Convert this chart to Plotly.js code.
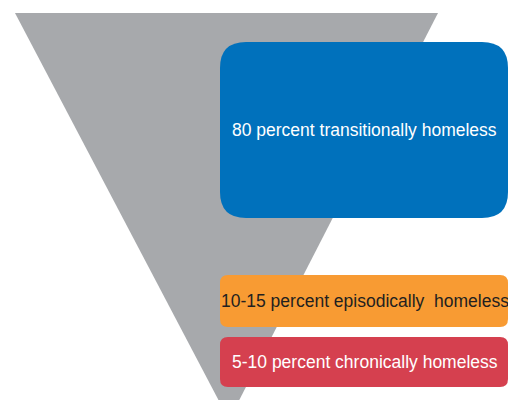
<!DOCTYPE html>
<html><head><meta charset="utf-8">
<script src="https://cdn.plot.ly/plotly-3.0.1.min.js"></script>
<style>html,body{margin:0;padding:0;background:#fff}#chart{width:508px;height:400px}</style>
</head><body><div id="chart"></div>
<script>
// Data
const categories = ['80 percent transitionally homeless', '10-15 percent episodically&nbsp; homeless', '5-10 percent chronically homeless'];
const shareLow = [80, 10, 5];
const shareHigh = [80, 15, 10];
const boxColors = ['#0071BC', '#F89B33', '#D5404F'];
const textColors = ['#FFFFFF', '#231F20', '#FFFFFF'];

// Layout geometry (pixel-like coordinates)
const boxes = [
  {x0: 220, x1: 508, y0: 42, y1: 218, r: 26},
  {x0: 220, x1: 508, y0: 275, y1: 327, r: 8},
  {x0: 220, x1: 508, y0: 337, y1: 387, r: 8}
];
function roundRect(b) {
  const {x0, x1, y0, y1, r} = b;
  return `M${x0 + r},${y0} L${x1 - r},${y0} Q${x1},${y0} ${x1},${y0 + r} L${x1},${y1 - r} Q${x1},${y1} ${x1 - r},${y1} L${x0 + r},${y1} Q${x0},${y1} ${x0},${y1 - r} L${x0},${y0 + r} Q${x0},${y0} ${x0 + r},${y0} Z`;
}

const funnel = {
  type: 'scatter', mode: 'lines',
  x: [15, 438, 229, 15], y: [13, 13, 420, 13],
  fill: 'toself', fillcolor: '#A7A9AC', line: {width: 0, color: '#A7A9AC'},
  hoverinfo: 'skip', showlegend: false
};

const shapes = boxes.map((b, i) => ({
  type: 'path', xref: 'x', yref: 'y', path: roundRect(b),
  fillcolor: boxColors[i], line: {width: 0}, layer: 'above'
}));

const annotations = boxes.map((b, i) => ({
  x: (b.x0 + b.x1) / 2 + 0.5, y: (b.y0 + b.y1) / 2, xref: 'x', yref: 'y',
  text: categories[i], showarrow: false,
  font: {family: 'Liberation Sans, Arial, sans-serif', size: 17.5, color: textColors[i]}
}));

Plotly.newPlot('chart', [funnel], {
  width: 508, height: 400,
  margin: {l: 0, r: 0, t: 0, b: 0},
  paper_bgcolor: '#fff', plot_bgcolor: '#fff',
  xaxis: {range: [0, 508], visible: false, fixedrange: true},
  yaxis: {range: [400, 0], visible: false, fixedrange: true},
  shapes: shapes, annotations: annotations, showlegend: false
}, {displayModeBar: false, staticPlot: true});
</script></body></html>
